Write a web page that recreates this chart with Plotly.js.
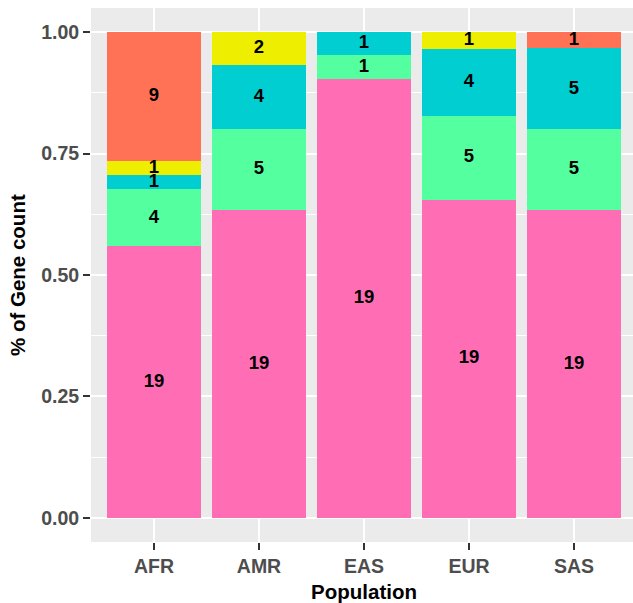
<!DOCTYPE html>
<html>
<head>
<meta charset="utf-8">
<script src="https://cdn.plot.ly/plotly-3.0.1.min.js"></script>
<style>html,body{margin:0;padding:0;overflow:hidden;background:#fff;}</style>
</head>
<body>
<div id="chart"></div>
<script>
// Data (stack order bottom -> top)
const populations = ['AFR', 'AMR', 'EAS', 'EUR', 'SAS'];
const seriesNames = ['pink', 'green', 'cyan', 'yellow', 'orange'];
const countsPink   = [19, 19, 19, 19, 19];
const countsGreen  = [4, 5, 1, 5, 5];
const countsCyan   = [1, 4, 1, 4, 5];
const countsYellow = [1, 2, 0, 1, 0];
const countsOrange = [9, 0, 0, 0, 1];
const seriesColors = ['#FF6EB4', '#54FF9F', '#00CED1', '#EEEE00', '#FF7256'];
const yTickVals = [0, 0.25, 0.5, 0.75, 1];
const yTickText = ['0.00', '0.25', '0.50', '0.75', '1.00'];

const allCounts = [countsPink, countsGreen, countsCyan, countsYellow, countsOrange];
const totals = populations.map((_, i) => allCounts.reduce((s, c) => s + c[i], 0));

const traces = [];
allCounts.forEach((counts, k) => {
  traces.push({
    type: 'bar',
    name: seriesNames[k],
    x: populations,
    y: counts.map((c, i) => c / totals[i]),
    marker: {color: seriesColors[k], line: {width: 0}},
    width: 0.9,
    hoverinfo: 'skip',
    showlegend: false
  });
});

// Labels at the middle of each segment
const lx = [], ly = [], lt = [];
populations.forEach((p, i) => {
  let cum = 0;
  allCounts.forEach(counts => {
    const f = counts[i] / totals[i];
    if (counts[i] > 0) {
      lx.push(p); ly.push(cum + f / 2); lt.push(String(counts[i]));
    }
    cum += f;
  });
});
traces.push({
  type: 'scatter', mode: 'text', x: lx, y: ly, text: lt,
  textposition: 'middle center',
  textfont: {family: 'Liberation Sans, Arial, sans-serif', size: 18.5, color: '#000000', weight: 'bold'},
  hoverinfo: 'skip', showlegend: false
});

const layout = {
  width: 640, height: 603,
  margin: {l: 91, r: 3, t: 8, b: 61},
  paper_bgcolor: '#FFFFFF',
  plot_bgcolor: '#EBEBEB',
  barmode: 'stack',
  bargap: 0.1,
  showlegend: false,
  font: {family: 'Liberation Sans, Arial, sans-serif'},
  xaxis: {
    type: 'category',
    categoryorder: 'array', categoryarray: populations,
    range: [-0.6, 4.6],
    showgrid: true, gridcolor: '#FFFFFF', gridwidth: 2,
    zeroline: false, showline: false,
    ticks: 'outside', ticklen: 7, tickwidth: 2, tickcolor: '#333333',
    tickfont: {size: 19.5, color: '#4D4D4D', weight: 'bold'},
    title: {text: 'Population', font: {size: 20.5, color: '#000000', weight: 'bold'}},
    automargin: false,
    fixedrange: true
  },
  yaxis: {
    range: [-0.05, 1.05],
    tickvals: yTickVals, ticktext: yTickText,
    showgrid: true, gridcolor: '#FFFFFF', gridwidth: 2,
    minor: {dtick: 0.25, tick0: 0.125, showgrid: true, gridcolor: '#FFFFFF', gridwidth: 1, ticks: ''},
    zeroline: false, showline: false,
    ticks: 'outside', ticklen: 7, tickwidth: 2, tickcolor: '#333333',
    tickfont: {size: 19.5, color: '#4D4D4D', weight: 'bold'},
    automargin: false,
    fixedrange: true
  },
  annotations: [{
    text: '% of Gene count',
    xref: 'paper', yref: 'paper',
    x: (17 - 91) / 546, y: 0.5,
    xanchor: 'center', yanchor: 'middle',
    textangle: -90, showarrow: false,
    font: {family: 'Liberation Sans, Arial, sans-serif', size: 20.5, color: '#000000', weight: 'bold'}
  }]
};

Plotly.newPlot('chart', traces, layout, {displayModeBar: false, staticPlot: true});
</script>
</body>
</html>
